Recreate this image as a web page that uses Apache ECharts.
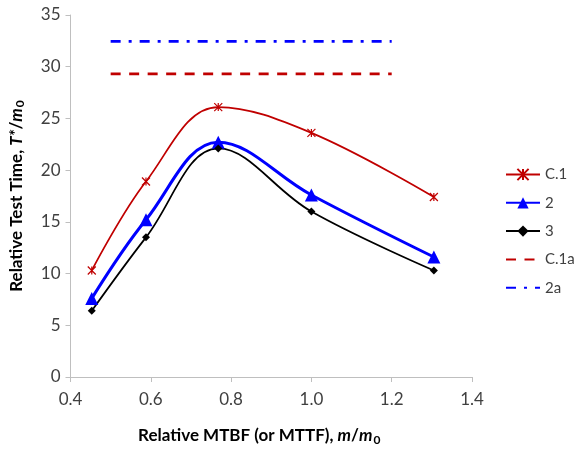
<!DOCTYPE html>
<html>
<head>
<meta charset="utf-8">
<script src="https://cdn.jsdelivr.net/npm/echarts@6/dist/echarts.min.js"></script>
<style>html,body{margin:0;padding:0;background:#fff;}#c{width:574px;height:451px;}</style>
</head>
<body>
<div id="c"></div>
<script>
const xValues = [0.453, 0.588, 0.768, 1.0, 1.305];
const seriesC1 = [10.3, 18.9, 26.1, 23.6, 17.4];
const series2 = [7.6, 15.2, 22.7, 17.6, 11.6];
const series3 = [6.4, 13.5, 22.1, 16.0, 10.3];
const refX = [0.5, 1.2];
const refC1a = 29.3;
const ref2a = 32.45;
const seriesNames = ['C.1', '2', '3', 'C.1a', '2a'];

const FONT = 'Lato';
const SMOOTH = 0.38;
const pair = (xs, ys) => xs.map((x, i) => [x, ys[i]]);
const flat = (xs, y) => xs.map(x => [x, y]);
const starPath = 'path://M0,0L10,10M10,0L0,10M5,0L5,10';

const chart = echarts.init(document.getElementById('c'));
chart.setOption({
  animation: false,
  textStyle: { fontFamily: FONT },
  grid: { left: 68, right: 102, top: 15, bottom: 70 },
  legend: {
    orient: 'vertical', left: 505, top: 167, padding: 0,
    itemWidth: 34, itemHeight: 14, itemGap: 13.3,
    textStyle: { fontSize: 15, color: '#404040', fontFamily: FONT },
    data: seriesNames
  },
  xAxis: {
    type: 'value', min: 0.4, max: 1.4, interval: 0.2,
    axisLine: { lineStyle: { color: '#bfbfbf', width: 1 } },
    axisTick: { show: true, length: 5, lineStyle: { color: '#bfbfbf' } },
    splitLine: { show: false },
    axisLabel: { fontSize: 17, color: '#404040', fontFamily: FONT, margin: 14, formatter: v => v.toFixed(1) },
    name: '{b|Relative MTBF (or MTTF), }{i|m}{b|/}{i|m}{s|0}',
    nameLocation: 'middle', nameGap: 49,
    nameTextStyle: {
      padding: [0, 24, 0, 0],
      rich: {
        b: { fontSize: 17, fontWeight: 'bold', color: '#000', fontFamily: FONT, lineHeight: 20 },
        i: { fontSize: 17, fontWeight: 'bold', fontStyle: 'italic', color: '#000', fontFamily: FONT, lineHeight: 20 },
        s: { fontSize: 12, fontWeight: 'bold', color: '#000', fontFamily: FONT, lineHeight: 20, verticalAlign: 'bottom', padding: [6, 0, 0, 1] }
      }
    }
  },
  yAxis: {
    type: 'value', min: 0, max: 35, interval: 5,
    axisLine: { show: true, lineStyle: { color: '#bfbfbf', width: 1 } },
    axisTick: { show: true, length: 5, lineStyle: { color: '#bfbfbf' } },
    splitLine: { show: false },
    axisLabel: { fontSize: 17, color: '#404040', fontFamily: FONT, margin: 10 },
    name: '{b|Relative Test Time, }{i|T*}{b|/}{i|m}{s|0}',
    nameLocation: 'middle', nameGap: 44, nameRotate: 90,
    nameTextStyle: {
      rich: {
        b: { fontSize: 17, fontWeight: 'bold', color: '#000', fontFamily: FONT, lineHeight: 20 },
        i: { fontSize: 17, fontWeight: 'bold', fontStyle: 'italic', color: '#000', fontFamily: FONT, lineHeight: 20 },
        s: { fontSize: 12, fontWeight: 'bold', color: '#000', fontFamily: FONT, lineHeight: 20, verticalAlign: 'bottom', padding: [6, 0, 0, 1] }
      }
    }
  },
  series: [
    {
      name: 'C.1', type: 'line', data: pair(xValues, seriesC1), smooth: SMOOTH,
      symbol: starPath, symbolSize: 8,
      lineStyle: { color: '#c00000', width: 1.75 },
      itemStyle: { color: 'rgba(0,0,0,0)', borderColor: '#c00000', borderWidth: 1.2 }
    },
    {
      name: '2', type: 'line', data: pair(xValues, series2), smooth: SMOOTH,
      symbol: 'triangle', symbolSize: 13,
      lineStyle: { color: '#0000ff', width: 3 },
      itemStyle: { color: '#0000ff' }
    },
    {
      name: '3', type: 'line', data: pair(xValues, series3), smooth: SMOOTH,
      symbol: 'diamond', symbolSize: 8,
      lineStyle: { color: '#000000', width: 1.75 },
      itemStyle: { color: '#000000' }
    },
    {
      name: 'C.1a', type: 'line', data: flat(refX, refC1a), showSymbol: false, symbol: 'circle',
      lineStyle: { color: '#c00000', width: 2.75, type: [10, 8.5] },
      itemStyle: { color: 'rgba(0,0,0,0)', borderWidth: 0 }
    },
    {
      name: '2a', type: 'line', data: flat(refX, ref2a), showSymbol: false, symbol: 'circle',
      lineStyle: { color: '#0000ff', width: 2.75, type: [10, 8, 3, 8] },
      itemStyle: { color: 'rgba(0,0,0,0)', borderWidth: 0 }
    }
  ]
});
</script>
</body>
</html>
